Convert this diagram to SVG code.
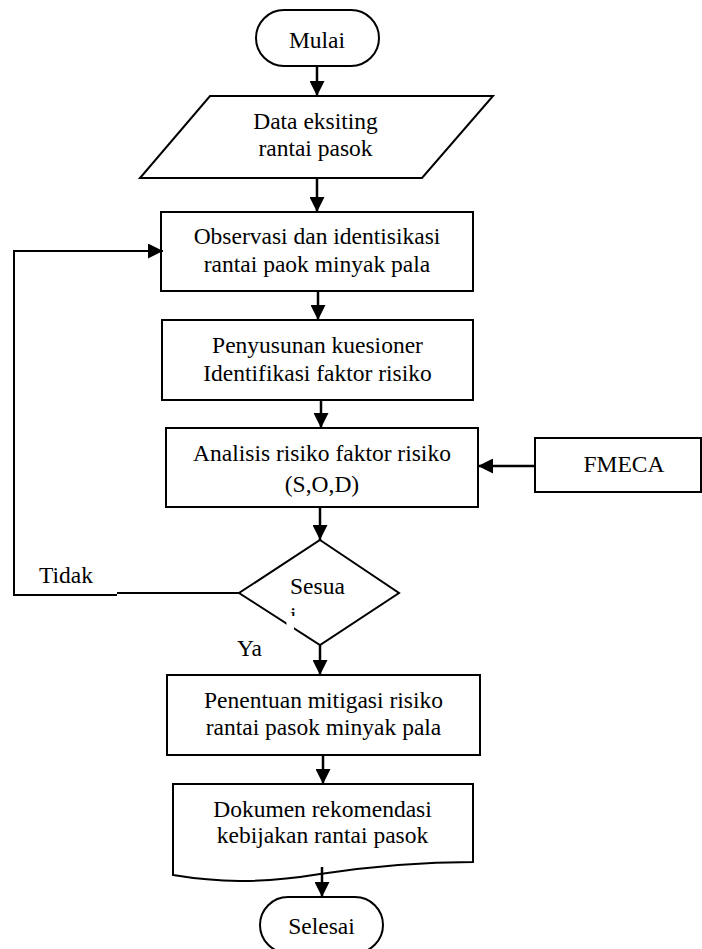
<svg xmlns="http://www.w3.org/2000/svg" width="702" height="949" viewBox="0 0 702 949">
<style>
.shape{fill:#fff;stroke:#000;stroke-width:2}
.conn{fill:none;stroke:#000;stroke-width:2.5}
.loop{fill:none;stroke:#000;stroke-width:2}
text{font-family:"Liberation Serif","Times New Roman",serif;font-size:23.5px;fill:#000}
.c{text-anchor:middle}
</style>
<defs>
<marker id="ah" markerUnits="userSpaceOnUse" markerWidth="15" markerHeight="15" refX="15" refY="7.5" orient="auto">
<path d="M0,0 L15,7.5 L0,15 z" fill="#000"/>
</marker>
<clipPath id="clipI"><rect x="280" y="600" width="30" height="16"/></clipPath>
</defs>
<rect width="702" height="949" fill="#fff"/>

<g id="mulai">
<rect class="shape" x="256" y="10" width="123" height="56" rx="28" ry="28"/>
<text class="c" x="317" y="48">Mulai</text>
</g>

<g id="data">
<polygon class="shape" points="210,96 493,96 422,178 140,178"/>
<text class="c" x="315.5" y="129">Data eksiting</text>
<text class="c" x="315.5" y="156">rantai pasok</text>
</g>

<g id="observasi">
<rect class="shape" x="161" y="212" width="312" height="79"/>
<text class="c" x="317" y="244">Observasi dan identisikasi</text>
<text class="c" x="317" y="272">rantai paok minyak pala</text>
</g>

<g id="penyusunan">
<rect class="shape" x="162" y="320" width="311" height="80"/>
<text class="c" x="317.5" y="353">Penyusunan kuesioner</text>
<text class="c" x="317.5" y="381">Identifikasi faktor risiko</text>
</g>

<g id="analisis">
<rect class="shape" x="166" y="428" width="312" height="79"/>
<text class="c" x="322" y="461">Analisis risiko faktor risiko</text>
<text class="c" x="322" y="492">(S,O,D)</text>
</g>

<g id="fmeca">
<rect class="shape" x="535" y="438" width="166" height="54"/>
<text class="c" x="624" y="472">FMECA</text>
</g>

<g id="sesuai">
<polygon class="shape" points="320,540 399,593 320,645 239,593"/>
<rect x="286.5" y="619" width="7.5" height="12" fill="#fff"/>
<text x="290" y="594">Sesua</text>
<text x="290" y="623" clip-path="url(#clipI)">i</text>
</g>

<g id="penentuan">
<rect class="shape" x="167" y="675" width="313" height="80"/>
<text class="c" x="323.5" y="708">Penentuan mitigasi risiko</text>
<text class="c" x="323.5" y="735">rantai pasok minyak pala</text>
</g>

<g id="dokumen">
<path class="shape" d="M173,784 H473 V862 C430,862 380,865 320,874 C260,884 215,882 173,875 Z"/>
<text class="c" x="322.5" y="817">Dokumen rekomendasi</text>
<text class="c" x="322.5" y="843">kebijakan rantai pasok</text>
</g>

<g id="selesai">
<rect class="shape" x="260" y="897" width="123" height="56" rx="28" ry="28"/>
<text class="c" x="321.5" y="934">Selesai</text>
</g>

<g id="connectors">
<path class="conn" d="M317,66 V96" marker-end="url(#ah)"/>
<path class="conn" d="M317,178 V212" marker-end="url(#ah)"/>
<path class="conn" d="M318,291 V320" marker-end="url(#ah)"/>
<path class="conn" d="M321,400 V428" marker-end="url(#ah)"/>
<path class="conn" d="M320,507 V540" marker-end="url(#ah)"/>
<path class="conn" d="M535,466 H478" marker-end="url(#ah)"/>
<path class="loop" d="M239,593 H117"/>
<path class="loop" d="M117,595 H14 V251 H163" marker-end="url(#ah)"/>
<path class="conn" d="M320,645 V675" marker-end="url(#ah)"/>
<path class="conn" d="M323,755 V784" marker-end="url(#ah)"/>
<path class="conn" d="M322,867 V897" marker-end="url(#ah)"/>
<text x="39" y="583">Tidak</text>
<text x="237" y="656">Ya</text>
</g>
</svg>
